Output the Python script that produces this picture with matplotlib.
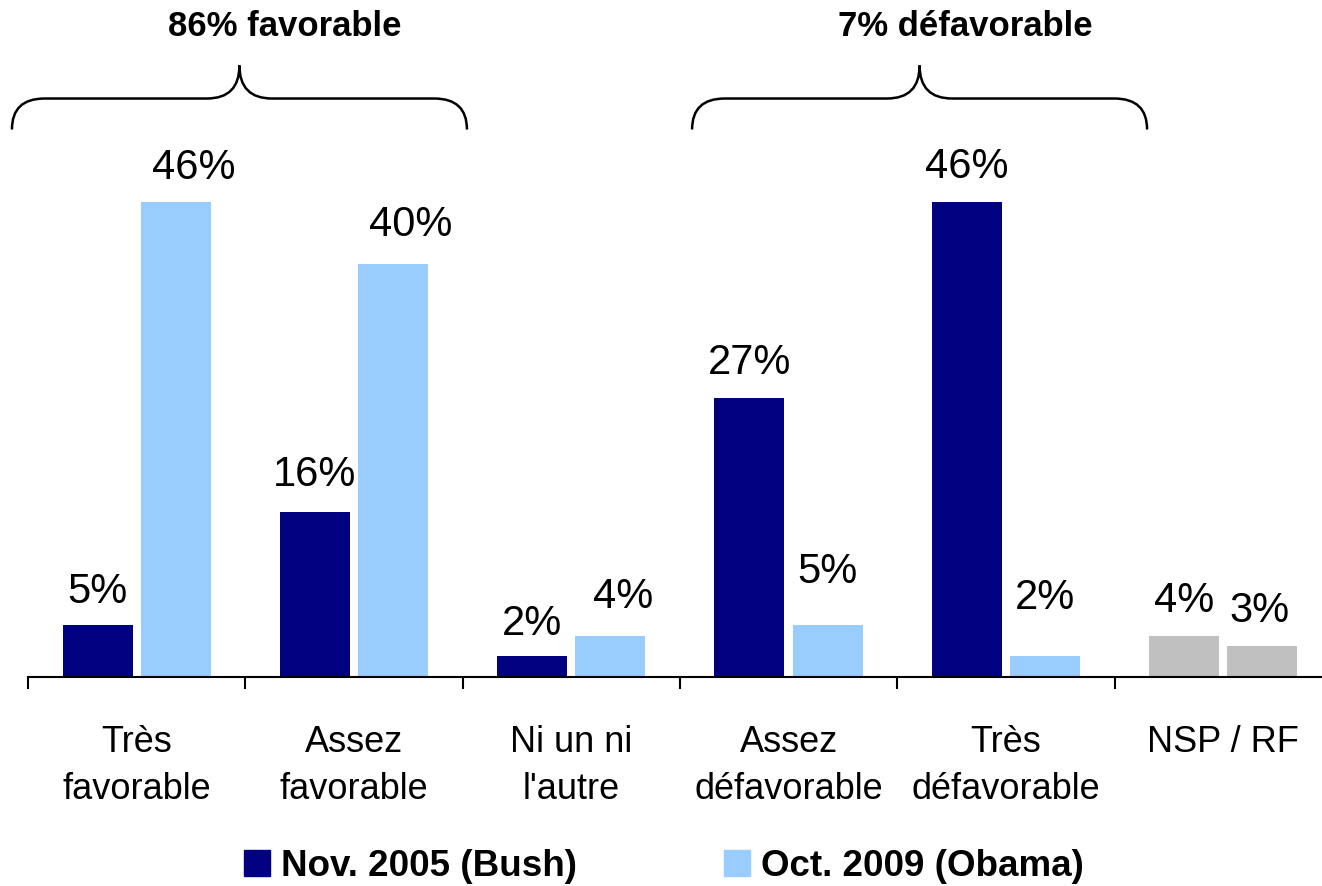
import numpy as np
import matplotlib
matplotlib.use("Agg")
from matplotlib import pyplot as plt
from matplotlib.path import Path
from matplotlib.patches import PathPatch, Patch

plt.rcParams['font.family'] = ['Liberation Sans', 'DejaVu Sans']

categories = ["Très\nfavorable", "Assez\nfavorable", "Ni un ni\nl'autre",
              "Assez\ndéfavorable", "Très\ndéfavorable", "NSP / RF"]
bush_2005 = [5, 16, 2, 27, 46, 4]
obama_2009 = [46, 40, 4, 5, 2, 3]
series_names = ["Nov. 2005 (Bush)", "Oct. 2009 (Obama)"]
brackets = [("86% favorable", -0.074, 2.02), ("7% défavorable", 3.056, 5.15)]

navy = "#000080"
light = "#99CCFF"
gray = "#C0C0C0"

# petits decalages des etiquettes (en points), comme dans l'original
dx_obama = [13, 13, 9, 0, 0, -2]
dy_obama = [17, 21, 21, 31, 35, 18]
dy_bush = [17, 19, 16, 18, 18, 18]

fig = plt.figure(figsize=(13.22, 8.87), dpi=100)
ax = fig.add_axes([28 / 1322, 1 - 678 / 887, 6 * 217.3 / 1322, 678 / 887])
ax.set_xlim(0, 6)
ax.set_ylim(0, 678 / 10.33)

x = np.arange(len(categories)) + 0.5
w = 0.322
off = 0.18
cols1 = [navy] * 5 + [gray]
cols2 = [light] * 5 + [gray]
b1 = ax.bar(x - off, bush_2005, width=w, color=cols1, zorder=2)
b2 = ax.bar(x + off, obama_2009, width=w, color=cols2, zorder=2)

for i, (r, v) in enumerate(zip(b1, bush_2005)):
    ax.annotate(f"{v}%", (r.get_x() + r.get_width() / 2, v),
                xytext=(0, dy_bush[i]), textcoords="offset points",
                ha="center", va="baseline", fontsize=30)
for i, (r, v) in enumerate(zip(b2, obama_2009)):
    ax.annotate(f"{v}%", (r.get_x() + r.get_width() / 2, v),
                xytext=(dx_obama[i], dy_obama[i]), textcoords="offset points",
                ha="center", va="baseline", fontsize=30)

# axe
for s in ("top", "right", "left"):
    ax.spines[s].set_visible(False)
ax.spines["bottom"].set_linewidth(1.5)
ax.set_yticks([])
ax.set_xticks(np.arange(0, 7))
ax.set_xticklabels([])
ax.tick_params(axis="x", which="major", direction="out", length=8.5, width=1.5)
ax.set_xticks(x, minor=True)
ax.set_xticklabels(categories, minor=True, fontsize=26, linespacing=1.42)
ax.tick_params(axis="x", which="minor", length=0, pad=34)

# accolades
for label, x0, x1 in brackets:
    xp = (x0 + x1) / 2
    ye, ym, yt = 53.0, 56.0, 59.2
    rx = 0.15
    verts = [(x0, ye), (x0, ym), (x0 + rx, ym),
             (xp - rx, ym),
             (xp, ym), (xp, yt),
             (xp, ym), (xp + rx, ym),
             (x1 - rx, ym),
             (x1, ym), (x1, ye)]
    codes = [Path.MOVETO, Path.CURVE3, Path.CURVE3,
             Path.LINETO,
             Path.CURVE3, Path.CURVE3,
             Path.CURVE3, Path.CURVE3,
             Path.LINETO,
             Path.CURVE3, Path.CURVE3]
    ax.add_patch(PathPatch(Path(verts, codes), fill=False, lw=1.8,
                           edgecolor="black", clip_on=False))
    ax.text(xp + 0.21, 63.1, label, ha="center", va="center", fontsize=25,
            fontweight="bold")

handles = [Patch(color=navy), Patch(color=light)]
fig.legend(handles, series_names, loc="center",
           bbox_to_anchor=(0.502, 1 - 867 / 887),
           ncol=2, frameon=False,
           prop={"weight": "bold", "size": 26.5}, handlelength=0.7,
           handleheight=0.7, handletextpad=0.3, columnspacing=4.0)

fig.savefig("out.png", dpi=100)
